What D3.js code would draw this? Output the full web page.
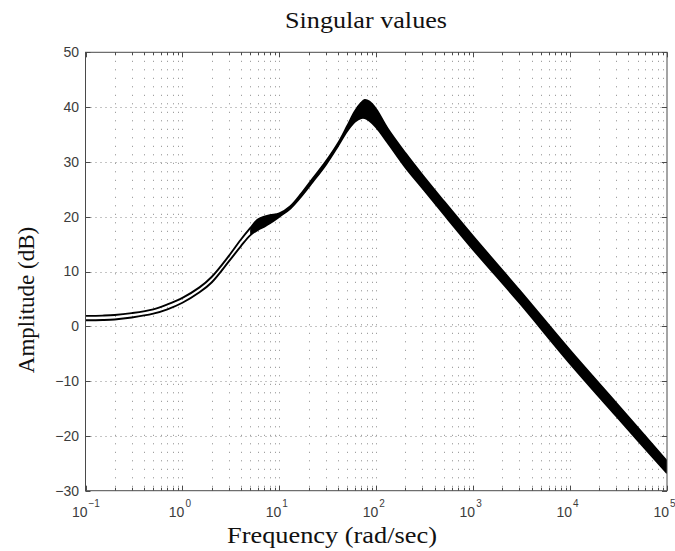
<!DOCTYPE html>
<html>
<head>
<meta charset="utf-8">
<script src="https://cdn.jsdelivr.net/npm/d3@7"></script>
<style>
  html, body { margin: 0; padding: 0; background: #fff; }
  svg { display: block; }
</style>
</head>
<body>
<svg id="chart" width="675" height="551"></svg>
<script>
// ---- data ----
const freq = [0.1, 0.15, 0.2, 0.3, 0.5, 0.7, 1, 1.5, 2, 3, 4, 5, 6, 7, 8, 10, 13, 17, 22, 30, 40, 50, 60, 70, 76, 85, 100, 130, 200, 300, 500, 1000, 3000, 10000, 30000, 100000];
// upper edge of the family of singular-value curves (dB)
const svUpper = [1.9, 1.95, 2.05, 2.4, 3.1, 4.0, 5.2, 7.1, 9.0, 12.8, 15.8, 17.9, 19.5, 20.0, 20.3, 20.6, 21.9, 24.3, 26.9, 30.0, 33.3, 36.5, 39.2, 40.8, 41.3, 41.0, 39.6, 36.2, 31.6, 27.6, 22.8, 16.4, 6.6, -4.4, -14.0, -24.6];
// lower edge of the family (dB)
const svLower = [1.1, 1.15, 1.25, 1.6, 2.3, 3.1, 4.3, 6.2, 8.0, 11.8, 14.6, 16.6, 17.6, 18.2, 18.8, 20.0, 21.5, 23.8, 26.3, 29.4, 32.8, 35.6, 37.3, 38.0, 38.0, 37.5, 36.3, 33.6, 29.0, 25.2, 20.4, 14.0, 4.3, -6.8, -16.4, -26.8];
// frequency from which the curves overlap into a solid band
const bandFrom = 5;

const yTicks = [-30, -20, -10, 0, 10, 20, 30, 40, 50];
const xTickExps = [-1, 0, 1, 2, 3, 4, 5];
const titleText = "Singular values";
const xLabelText = "Frequency (rad/sec)";
const yLabelText = "Amplitude (dB)";

// ---- layout ----
const L = 85.5, R = 667, T = 52.3, B = 490.7;
const svg = d3.select("#chart");
const x = d3.scaleLog().domain([0.1, 1e5]).range([L, R]);
const y = d3.scaleLinear().domain([-30, 50]).range([B, T]);

// minor/major x positions
const xGridVals = [];
for (let e = -1; e <= 4; e++) {
  for (let m = 1; m <= 9; m++) xGridVals.push(m * Math.pow(10, e));
}
xGridVals.push(1e5);

const grid = svg.append("g").attr("stroke", "#8a8a8a").attr("stroke-width", 1).attr("fill", "none");
grid.selectAll("line.v").data(xGridVals.filter(v => v > 0.1 && v < 1e5)).enter().append("line")
  .attr("x1", d => Math.round(x(d)) + 0.5).attr("x2", d => Math.round(x(d)) + 0.5)
  .attr("y1", T).attr("y2", B)
  .attr("stroke-dasharray", "1,7.5");
grid.selectAll("line.h").data(yTicks.filter(v => v > -30 && v < 50)).enter().append("line")
  .attr("x1", L).attr("x2", R)
  .attr("y1", d => Math.round(y(d)) + 0.5).attr("y2", d => Math.round(y(d)) + 0.5)
  .attr("stroke-dasharray", "1,4");

// clip
svg.append("clipPath").attr("id", "clip").append("rect")
  .attr("x", L).attr("y", T).attr("width", R - L).attr("height", B - T);

const pts = freq.map((f, i) => ({ f, hi: svUpper[i], lo: svLower[i] }));
const plot = svg.append("g").attr("clip-path", "url(#clip)");
const smooth = d3.curveCatmullRom.alpha(0.5);

// solid band where curves overlap
const band = pts.filter(d => d.f >= bandFrom);
plot.append("path").datum(band)
  .attr("fill", "#000")
  .attr("d", d3.area().x(d => x(d.f)).y0(d => y(d.lo)).y1(d => y(d.hi)).curve(smooth));

const lineHi = d3.line().x(d => x(d.f)).y(d => y(d.hi)).curve(smooth);
const lineLo = d3.line().x(d => x(d.f)).y(d => y(d.lo)).curve(smooth);
plot.append("path").datum(pts).attr("fill", "none").attr("stroke", "#000").attr("stroke-width", 1.9).attr("d", lineHi);
plot.append("path").datum(pts).attr("fill", "none").attr("stroke", "#000").attr("stroke-width", 1.9).attr("d", lineLo);

// ---- axes box and ticks ----
const axc = "#4a4a4a";
const ax = svg.append("g").attr("stroke", axc).attr("stroke-width", 1).attr("fill", "none");
ax.append("rect").attr("x", L).attr("y", T).attr("width", R - L).attr("height", B - T);
xGridVals.forEach(v => {
  const isMajor = Math.abs(Math.log10(v) - Math.round(Math.log10(v))) < 1e-9;
  const len = isMajor ? 5 : 3;
  const px = Math.round(x(v)) + 0.5;
  ax.append("line").attr("x1", px).attr("x2", px).attr("y1", B).attr("y2", B - len);
  ax.append("line").attr("x1", px).attr("x2", px).attr("y1", T).attr("y2", T + len);
});
yTicks.forEach(v => {
  const py = Math.round(y(v)) + 0.5;
  ax.append("line").attr("x1", L).attr("x2", L + 5).attr("y1", py).attr("y2", py);
  ax.append("line").attr("x1", R).attr("x2", R - 5).attr("y1", py).attr("y2", py);
});

// tick labels
const tickFont = "'Liberation Sans', Arial, Helvetica, sans-serif";
const tickCol = "#3c3c3c";
svg.append("g").selectAll("text").data(yTicks).enter().append("text")
  .attr("x", L - 6.5).attr("y", d => y(d))
  .attr("dy", "0.35em")
  .attr("text-anchor", "end")
  .attr("font-family", tickFont).attr("font-size", 14).attr("fill", tickCol)
  .text(d => (d < 0 ? "\u2212" + Math.abs(d) : String(d)));

const xl = svg.append("g").attr("font-family", tickFont).attr("fill", tickCol);
xTickExps.forEach(e => {
  const px = x(Math.pow(10, e));
  xl.append("text").attr("x", px + 2).attr("y", 517).attr("text-anchor", "end")
    .attr("font-size", 14).text("10");
  xl.append("text").attr("x", px + 3).attr("y", 507).attr("text-anchor", "start")
    .attr("font-size", 10).text(e < 0 ? "\u2212" + Math.abs(e) : String(e));
});

// titles
const serif = "'Liberation Serif', 'Times New Roman', Times, serif";
svg.append("text").attr("x", 366).attr("y", 28).attr("text-anchor", "middle")
  .attr("font-family", serif).attr("font-size", 23).attr("fill", "#111")
  .attr("textLength", 162).attr("lengthAdjust", "spacingAndGlyphs")
  .text(titleText);
svg.append("text").attr("x", 332).attr("y", 543).attr("text-anchor", "middle")
  .attr("font-family", serif).attr("font-size", 23).attr("fill", "#111")
  .attr("textLength", 210).attr("lengthAdjust", "spacingAndGlyphs")
  .text(xLabelText);
svg.append("text").attr("transform", "translate(34,300) rotate(-90)").attr("text-anchor", "middle")
  .attr("font-family", serif).attr("font-size", 23).attr("fill", "#111")
  .text(yLabelText);
</script>
</body>
</html>
